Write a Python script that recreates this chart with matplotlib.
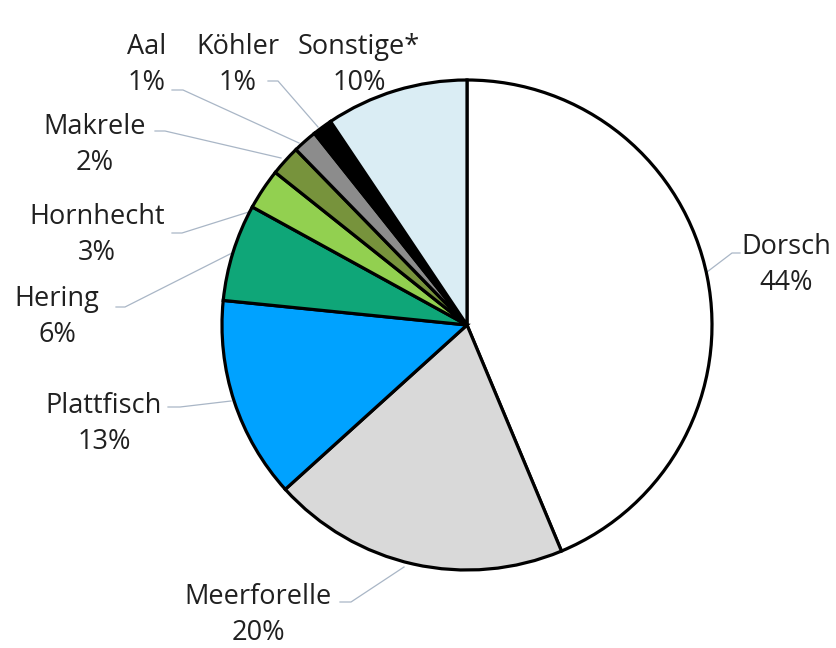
import matplotlib.pyplot as plt

# data
species = ["Dorsch", "Meerforelle", "Plattfisch", "Hering", "Hornhecht",
           "Makrele", "Aal", "Köhler", "Sonstige*"]
shares = [43.7, 19.6, 13.3, 6.4, 2.7, 2.0, 1.6, 1.3, 9.4]
share_labels = ["44%", "20%", "13%", "6%", "3%", "2%", "1%", "1%", "10%"]
colors = ["#ffffff", "#d9d9d9", "#00a2ff", "#0fa678", "#92d050",
          "#77933c", "#8c8c8c", "#000000", "#daedf4"]

W, H = 837, 648
fig = plt.figure(figsize=(W / 100, H / 100), dpi=100)
ax = fig.add_axes([0, 0, 1, 1])

cx, cy, r = 467, H - 325, 245
ax.pie(shares, colors=colors, startangle=90, counterclock=False,
       center=(cx, cy), radius=r, frame=True,
       wedgeprops=dict(edgecolor="black", linewidth=2.3))
ax.set_xlim(0, W)
ax.set_ylim(0, H)
ax.set_aspect("equal")
ax.axis("off")

# label layout (pixel coords from top): text centre, leader line points
label_pos = [(786, 265), (258, 615), (104, 424), (57, 317), (97, 235),
             (95, 145), (147, 65), (238, 65), (359, 65)]
leaders = [
    [(707, 272), (732, 253), (740, 253)],
    [(404, 567), (351, 602), (340, 602)],
    [(231, 401), (180, 407), (168, 407)],
    [(232, 253), (125, 307), (116, 307)],
    [(255, 210), (182, 233), (172, 233)],
    [(281, 158), (165, 131), (155, 131)],
    [(299, 143), (183, 90), (172, 90)],
    [(318, 127), (278, 81), (268, 81)],
    None,
]

for name, lab, (tx, ty), pts in zip(species, share_labels, label_pos, leaders):
    ax.text(tx, H - ty, name + "\n" + lab, ha="center", va="center",
            fontsize=19.5, family="Open Sans", color="#202020", linespacing=1.4)
    if pts:
        ax.plot([p[0] for p in pts], [H - p[1] for p in pts],
                color="#a9b6c6", linewidth=0.9, zorder=0)

fig.savefig("out.png", dpi=100, facecolor="white")
